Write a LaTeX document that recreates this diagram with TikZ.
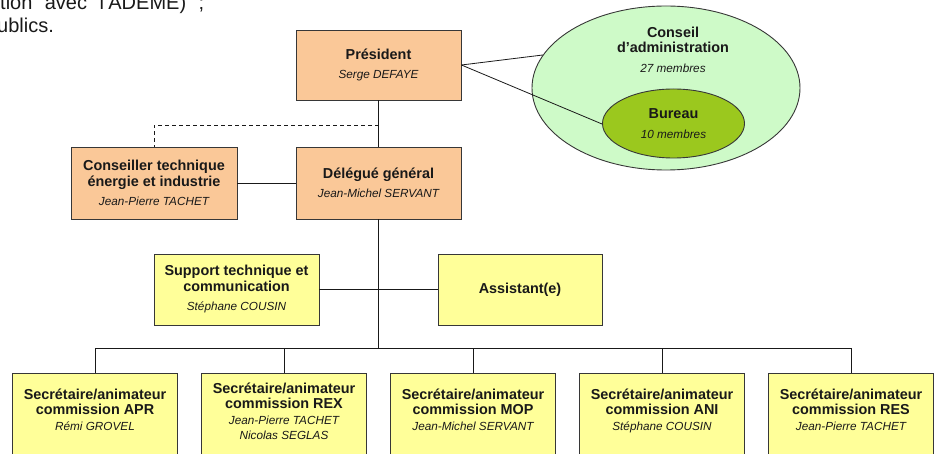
\documentclass[tikz,border=0pt]{standalone}
\usepackage{fontspec}
\setmainfont{Liberation Sans}
\usetikzlibrary{shapes.geometric}
\definecolor{peach}{RGB}{250,200,152}
\definecolor{pale}{RGB}{255,255,153}
\definecolor{mint}{RGB}{206,250,200}
\definecolor{olive}{RGB}{155,200,30}
\definecolor{edge}{RGB}{55,55,55}
\definecolor{ink}{RGB}{25,25,25}
\newcommand{\tb}{\bfseries}
\newcommand{\ti}{\fontsize{11.75}{15.5}\selectfont\itshape}
\begin{document}
\begin{tikzpicture}[x=1pt,y=-1pt,
  every node/.style={font=\fontsize{14.4}{15.5}\selectfont, text=ink},
  box/.style={draw=edge, line width=0.9pt, inner sep=0pt, align=center},
  obox/.style={box, fill=peach},
  ybox/.style={box, fill=pale},
  lbl/.style={align=center, inner sep=0pt, text depth=0pt},
  conn/.style={draw=ink, line width=0.8pt},
  dconn/.style={conn, dash pattern=on 4pt off 3pt}
]
\useasboundingbox (0,0) rectangle (938,454);
\clip (0,0) rectangle (938,454);

% top-left text fragment
\node[anchor=base west, inner sep=0pt, font=\fontsize{20}{24}\selectfont] (txta) at (0,9.5) {\makebox[204pt][s]{tion avec l'ADEME) ;}};
\node[anchor=base west, inner sep=0pt, font=\fontsize{20}{24}\selectfont] (txtb) at (-3,32.5) {ublics.};

% boxes
\node[obox, minimum width=165pt, minimum height=70pt] (pres) at (378.5,65)
  {{\tb Président}\\[4pt]{\ti Serge DEFAYE}};
\node[obox, minimum width=166pt, minimum height=72pt] (cons) at (154,183)
  {{\tb Conseiller technique}\\{\tb énergie et industrie}\\[4pt]{\ti Jean-Pierre TACHET}};
\node[obox, minimum width=165pt, minimum height=72pt] (del) at (378.5,183)
  {{\tb Délégué général}\\[4pt]{\ti Jean-Michel SERVANT}};
\node[ybox, minimum width=165pt, minimum height=71pt] (sup) at (236.5,289.5)
  {{\tb Support technique et}\\{\tb communication}\\[4pt]{\ti Stéphane COUSIN}};
\node[ybox, minimum width=164pt, minimum height=71pt] (asst) at (520,289.5)
  {{\tb Assistant(e)}};

% ellipses
\node[ellipse, draw=edge, line width=0.9pt, fill=mint, minimum width=268pt, minimum height=164pt, inner sep=0pt] (ca) at (666,88) {};
\node[lbl] (catext) at (673,50)
  {{\tb Conseil}\\{\tb d’administration}\\[4.5pt]{\ti 27 membres}};
\draw[conn] (pres.east) -- (ca.165);
\draw[conn] (pres.east) -- (602,124);
\node[ellipse, draw=edge, line width=0.9pt, fill=olive, minimum width=142pt, minimum height=69pt, inner sep=0pt, align=center] (bur) at (673.5,123.5)
  {{\tb Bureau}\\[4.5pt]{\ti 10 membres}};

% bottom boxes
\foreach \nm/\cx in {apr/95, rex/284, mop/473, ani/662, res/851}{
  \node[ybox, minimum width=165pt, minimum height=100pt, anchor=north] (\nm box) at (\cx,373) {};
}
\node[lbl] (aprt) at (95,409.4) {{\tb Secrétaire/animateur}\\{\tb commission APR}\\{\ti Rémi GROVEL}};
\node[lbl] (rext) at (284,411.2) {{\tb Secrétaire/animateur}\\{\tb commission REX}\\{\ti Jean-Pierre TACHET}\\{\ti Nicolas SEGLAS}};
\node[lbl] (mopt) at (473,409.4) {{\tb Secrétaire/animateur}\\{\tb commission MOP}\\{\ti Jean-Michel SERVANT}};
\node[lbl] (anit) at (662,409.4) {{\tb Secrétaire/animateur}\\{\tb commission ANI}\\{\ti Stéphane COUSIN}};
\node[lbl] (rest) at (851,409.4) {{\tb Secrétaire/animateur}\\{\tb commission RES}\\{\ti Jean-Pierre TACHET}};

% connectors
\coordinate (dj) at (378.5,125);
\coordinate (bus) at (378.5,348);
\draw[conn] (pres.south) -- (del.north);
\draw[dconn] (dj) -| (cons.north);
\draw[conn] (cons.east) -- (del.west);
\draw[conn] (del.south) -- (bus);
\draw[conn] (sup.east) -- (asst.west);
\draw[conn] (aprbox.north) |- (resbox.north |- bus) -- (resbox.north);
\draw[conn] (rexbox.north) -- (rexbox.north |- bus);
\draw[conn] (mopbox.north) -- (mopbox.north |- bus);
\draw[conn] (anibox.north) -- (anibox.north |- bus);
\end{tikzpicture}
\end{document}
